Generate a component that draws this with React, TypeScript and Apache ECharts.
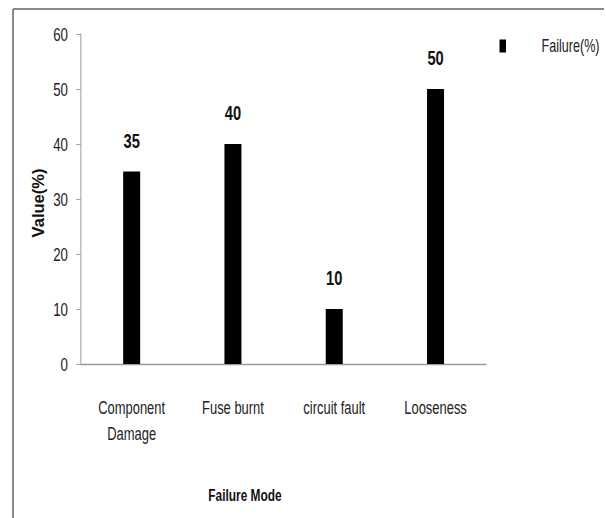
import React, { useEffect, useRef } from "react";
import * as echarts from "echarts";

const categories = ["Component\nDamage", "Fuse burnt", "circuit fault", "Looseness"];
const failurePct = [35, 40, 10, 50];
const seriesName = "Failure(%)";
const yTicks = { min: 0, max: 60, interval: 10 };

// The chart is laid out on a wider canvas and squeezed horizontally,
// giving the tall, condensed lettering of the original figure.
const SQUEEZE = 0.7;
const OUT_W = 606;
const OUT_H = 518;
const W = OUT_W / SQUEEZE;
const sx = (px: number) => px / SQUEEZE;

const FONT = '"Liberation Sans", Arial, sans-serif';

export default function App() {
  const ref = useRef<HTMLDivElement>(null);

  useEffect(() => {
    if (!ref.current) return;
    const chart = echarts.init(ref.current, null, { renderer: "svg" });
    chart.setOption({
      animation: false,
      backgroundColor: "#ffffff",
      grid: {
        left: sx(81),
        top: 34,
        right: W - sx(486),
        bottom: OUT_H - 364,
        containLabel: false,
      },
      legend: {
        data: [{ name: seriesName, icon: "rect" }],
        left: sx(496),
        top: 32,
        itemWidth: sx(6.5),
        itemHeight: 13,
        textStyle: {
          fontFamily: FONT,
          fontSize: 18,
          color: "#222",
          padding: [0, 0, 0, sx(538) - sx(502.5) - 5],
        },
      },
      xAxis: {
        type: "category",
        data: categories,
        axisLine: { lineStyle: { color: "#9a9a9a", width: 1.4 } },
        axisTick: { show: false },
        axisLabel: {
          margin: 31,
          fontFamily: FONT,
          fontSize: 18.5,
          lineHeight: 26,
          color: "#222",
          interval: 0,
        },
      },
      yAxis: {
        type: "value",
        min: yTicks.min,
        max: yTicks.max,
        interval: yTicks.interval,
        splitLine: { show: false },
        axisLine: { show: true, lineStyle: { color: "#9a9a9a", width: 1.4 } },
        axisTick: { show: true, length: sx(5), lineStyle: { color: "#9a9a9a" } },
        axisLabel: {
          margin: sx(13),
          fontFamily: FONT,
          fontSize: 19,
          color: "#222",
        },
      },
      series: [
        {
          name: seriesName,
          type: "bar",
          data: failurePct,
          barWidth: sx(17),
          itemStyle: { color: "#000000" },
          label: {
            show: true,
            position: "top",
            distance: 20,
            fontFamily: FONT,
            fontWeight: "bold",
            fontSize: 21,
            color: "#111",
          },
        },
      ],
      graphic: [
        {
          type: "line",
          shape: { x1: sx(13), y1: 9, x2: sx(604), y2: 9 },
          style: { stroke: "#8a8a8a", lineWidth: 2 },
        },
        {
          type: "line",
          shape: { x1: sx(13), y1: 9, x2: sx(13), y2: OUT_H },
          style: { stroke: "#8a8a8a", lineWidth: sx(2) },
        },
        {
          // vertical axis title; its letter height is un-squeezed so it keeps its weight
          type: "text",
          x: sx(37.5),
          y: 203,
          rotation: Math.PI / 2,
          scaleY: 1 / SQUEEZE,
          style: {
            text: "Value(%)",
            fontFamily: FONT,
            fontWeight: "bold",
            fontSize: 16.5,
            fill: "#111",
            textAlign: "center",
            textVerticalAlign: "middle",
          },
        },
        {
          type: "text",
          x: sx(245),
          y: 495,
          style: {
            text: "Failure Mode",
            fontFamily: FONT,
            fontWeight: "bold",
            fontSize: 17,
            fill: "#111",
            textAlign: "center",
            textVerticalAlign: "middle",
          },
        },
      ],
    });
    return () => chart.dispose();
  }, []);

  return (
    <div
      style={{
        position: "fixed",
        left: 0,
        top: 0,
        width: OUT_W,
        height: OUT_H,
        overflow: "hidden",
        background: "#ffffff",
      }}
    >
      <div
        ref={ref}
        style={{
          width: W,
          height: OUT_H,
          transform: `scaleX(${SQUEEZE})`,
          transformOrigin: "0 0",
        }}
      />
    </div>
  );
}
